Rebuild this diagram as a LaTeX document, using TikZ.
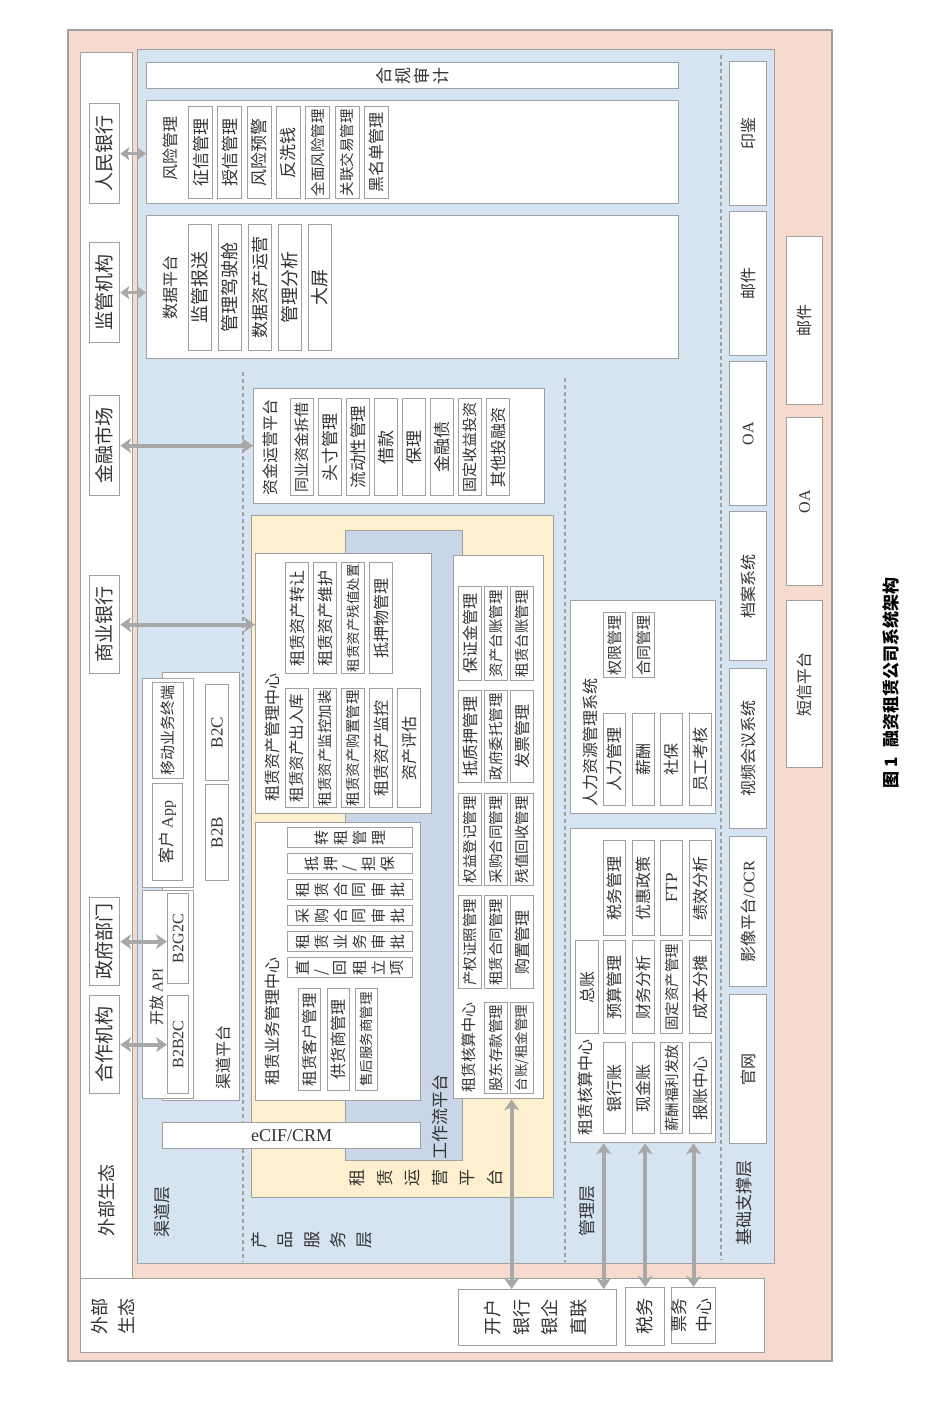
\documentclass[tikz,border=0pt]{standalone}
\usepackage{fontspec}
\usepackage{graphicx}
\setmainfont{Noto Sans CJK SC}
\newfontfamily\serifl{Liberation Serif}
\usetikzlibrary{arrows.meta}

\definecolor{erPeach}{HTML}{F6DACD}
\definecolor{erBlue}{HTML}{D6E4F2}
\definecolor{erYellow}{HTML}{FDF0CE}
\definecolor{erFlow}{HTML}{C8D6E8}
\definecolor{erLine}{HTML}{A0A0A0}
\definecolor{erArrow}{HTML}{A8A8A8}
\definecolor{erText}{HTML}{333333}

\newcommand\fsz[1]{\fontsize{#1}{#1}\selectfont}
\newcommand\rt[1]{\rotatebox{90}{#1}}
\newlength\vgap
\def\vloop#1{\ifx\relax#1\else\makebox[\vgap]{\rotatebox{90}{#1}}\expandafter\vloop\fi}
\newcommand\vs[2][19pt]{\setlength\vgap{#1}\expandafter\vloop#2\relax}

\tikzset{
  box/.style={draw=erLine, fill=white, line width=1.3pt, inner sep=0pt, anchor=north west, text=erText},
  sub/.style={box, line width=1.1pt},
  sz/.style 2 args={minimum width=#1pt, minimum height=#2pt},
  lbl/.style={inner sep=0pt, text=erText},
  layer/.style={draw=erLine, line width=1.3pt},
  sep/.style={draw=erLine, line width=1.2pt, dash pattern=on 4pt off 3pt},
  arr/.style={{Stealth[length=11pt,width=15pt,inset=3pt]}-{Stealth[length=11pt,width=15pt,inset=3pt]}, draw=erArrow, line width=4pt},
  sarr/.style={{Stealth[length=9pt,width=13pt,inset=2pt]}-{Stealth[length=9pt,width=13pt,inset=2pt]}, draw=erArrow, line width=3pt},
}

\begin{document}
\begin{tikzpicture}[x=1pt, y=-1pt, font=\fsz{16}]
\useasboundingbox (0,0) rectangle (944,1421);

% ===== FRAMES =====
\draw[layer, fill=erPeach] (68,30) rectangle (832,1361);
\node[box, sz={52}{1226}] (extl) at (80,52) {};
\node[box, sz={684}{74}] (extb) at (80,1278) {};
\node[box, fill=erBlue, sz={637}{1214}] (core) at (137,49) {};

\node[lbl, font=\fsz{18}] (extlt) at (107,1200) {\rt{外部生态}};
\node[lbl, font=\fsz{18}] (extbt) at (115,1316) {\rt{\begin{tabular}{@{}c@{}}外部\\[6pt]生态\end{tabular}}};

% layer separators
\draw[sep] (243,372) -- (243,1262);
\draw[sep] (565,378) -- (565,1262);
\draw[sep] (721,55) -- (721,1260);

\node[lbl, font=\fsz{17}] (qdc) at (162,1212) {\rt{渠道层}};
\node[lbl, font=\fsz{17}] (cpfwc) at (312,1240) {\vs[26.5pt]{产品服务层}};
\node[lbl, font=\fsz{17}] (glc) at (587,1211) {\rt{管理层}};
\node[lbl, font=\fsz{17}] (jczcc) at (744,1203) {\rt{基础支撑层}};

% ===== EXTERNAL PARTIES (left) =====
\foreach \n/\t/\y/\h in {rmyh/人民银行/103/100, jgjg/监管机构/242/100, jrsc/金融市场/395/100,
                         syyh/商业银行/575/98, zfbm/政府部门/897/88, hzjg/合作机构/995/98}
  \node[box, sz={30}{\h}, font=\fsz{19}] (\n) at (89,\y) {\rt{\t}};

% ===== TOP: compliance, risk, data =====
\node[box, sz={532}{26}, font=\fsz{17}] (hgsj) at (146,62) {\vs[19pt]{合规审计}};

\node[box, sz={532}{103}] (fxgl) at (146,100) {};
\node[lbl, font=\fsz{16}] (fxglt) at (170,148) {\rt{风险管理}};
\foreach \t/\f [count=\i from 0] in {征信管理/17, 授信管理/17, 风险预警/17, 反洗钱/17,
                                     全面风险管理/14.5, 关联交易管理/14.5, 黑名单管理/16}
  \node[sub, sz={24}{92}, font=\fsz{\f}] (fx\i) at ({188+29.3*\i},106) {\rt{\t}};

\node[box, sz={532}{143}] (sjpt) at (146,215) {};
\node[lbl, font=\fsz{16}] (sjptt) at (170,287) {\rt{数据平台}};
\foreach \t/\f [count=\i from 0] in {监管报送/18, 管理驾驶舱/18, 数据资产运营/17, 管理分析/18, 大屏/18}
  \node[sub, sz={23}{126}, font=\fsz{\f}] (sj\i) at ({188+30*\i},224) {\rt{\t}};

% ===== PRODUCT SERVICE LAYER =====
% fund operation
\node[box, sz={291}{115}] (zjyy) at (253,388) {};
\node[lbl, font=\fsz{16}] (zjyyt) at (270,447) {\rt{资金运营平台}};
\foreach \t/\f [count=\i from 0] in {同业资金拆借/15, 头寸管理/17, 流动性管理/16.5, 借款/17,
                                     保理/17, 金融债/17, 固定收益投资/15, 其他投融资/16}
  \node[sub, sz={23}{97}, font=\fsz{\f}] (zj\i) at ({290+28*\i},398) {\rt{\t}};

% leasing operation platform + workflow platform
\node[box, fill=erYellow, sz={302}{682}] (zlyy) at (251,515) {};
\node[lbl, font=\fsz{17}] (zlyyt) at (426,1178) {\vs[27.5pt]{租赁运营平台}};
\node[box, fill=erFlow, sz={117}{630}] (gzl) at (345,530) {};
\node[lbl, font=\fsz{17}] (gzlt) at (440,1117) {\rt{工作流平台}};

% leased asset management centre
\node[box, sz={176}{260}] (zcgl) at (255,553) {};
\node[lbl, font=\fsz{16}] (zcglt) at (272,737) {\rt{租赁资产管理中心}};
\foreach \t/\f [count=\i from 0] in {租赁资产转让/16, 租赁资产维护/16, 租赁资产残值处置/13.5, 抵押物管理/16}
  \node[sub, sz={23}{111}, font=\fsz{\f}] (zu\i) at ({285+28*\i},562) {\rt{\t}};
\foreach \t/\f [count=\i from 0] in {租赁资产出入库/15.5, 租赁资产监控加装/14.5, 租赁资产购置管理/14.5,
                                     租赁资产监控/16, 资产评估/16}
  \node[sub, sz={23}{119}, font=\fsz{\f}] (zl\i) at ({285+28*\i},688) {\rt{\t}};

% leasing business management centre
\node[box, sz={165}{278}] (ywgl) at (255,822) {};
\node[lbl, font=\fsz{16}] (ywglt) at (272,1021) {\rt{租赁业务管理中心}};
\foreach \t [count=\i from 0] in {转租管理,抵押/担保,租赁合同审批,采购合同审批,租赁业务审批,直/回租立项}
  \node[sub, sz={125}{20}, font=\fsz{15}] (yw\i) at (287,{827+26*\i}) {\vs{\t}};
\foreach \t/\f [count=\i from 0] in {租赁客户管理/15.5, 供货商管理/16, 售后服务商管理/13.5}
  \node[sub, sz={22}{102}, font=\fsz{\f}] (yl\i) at ({298+28.5*\i},988) {\rt{\t}};

% leasing accounting centre
\node[box, sz={90}{543}] (hs1) at (453,555) {};
\foreach \t/\f [count=\i from 0] in {保证金管理/16, 资产台账管理/14.5, 租赁台账管理/14.5}
  \node[sub, sz={23}{94}, font=\fsz{\f}] (ha\i) at ({458+26*\i},586) {\rt{\t}};
\foreach \t/\f [count=\i from 0] in {抵质押管理/16, 政府委托管理/14.5, 发票管理/16}
  \node[sub, sz={23}{92}, font=\fsz{\f}] (hb\i) at ({458+26*\i},690) {\rt{\t}};
\foreach \t/\f [count=\i from 0] in {权益登记管理/14.5, 采购合同管理/14.5, 残值回收管理/14.5}
  \node[sub, sz={23}{92}, font=\fsz{\f}] (hc\i) at ({458+26*\i},793) {\rt{\t}};
\foreach \t/\f [count=\i from 0] in {产权证照管理/14.5, 租赁合同管理/14.5, 购置管理/16}
  \node[sub, sz={23}{93}, font=\fsz{\f}] (hd\i) at ({458+26*\i},895) {\rt{\t}};
\node[lbl, font=\fsz{15}] (hs1t) at (469,1047) {\rt{租赁核算中心}};
\node[sub, sz={23}{91}, font=\fsz{14.5}] (he1) at (484,1002) {\rt{股东存款管理}};
\node[sub, sz={23}{91}, font=\fsz{13.5}] (he2) at (510,1002) {\rt{台账/租金管理}};

% ===== CHANNEL LAYER =====
\node[box, sz={77}{428}] (qdpt) at (162,672) {};
\node[lbl, font=\fsz{16}] (qdptt) at (223,1057) {\rt{渠道平台}};
\node[box, sz={51}{209}] (qdzd) at (142,678) {};
\node[sub, sz={31}{96}, font=\fsz{15}] (ydzd) at (152,682) {\rt{移动业务终端}};
\node[sub, sz={30}{97}, font=\fsz{16}] (khapp) at (152,783) {\rt{客户 {\serifl App}}};
\node[sub, sz={23}{96}, font=\fsz{17}\serifl] (b2c) at (205,684) {\rt{B2C}};
\node[sub, sz={23}{96}, font=\fsz{17}\serifl] (b2b) at (205,784) {\rt{B2B}};
\node[box, sz={51}{208}] (kfapi) at (142,890) {};
\node[lbl, font=\fsz{15}] (kfapit) at (157,997) {\rt{开放 {\serifl API}}};
\node[sub, sz={21}{90}, font=\fsz{16}\serifl] (b2g2c) at (167,893) {\rt{B2G2C}};
\node[sub, sz={21}{98}, font=\fsz{16}\serifl] (b2b2c) at (167,995) {\rt{B2B2C}};

\node[box, sz={258}{26}, font=\fsz{18}\serifl] (ecif) at (162,1122) {eCIF/CRM};

% ===== MANAGEMENT LAYER =====
\node[box, sz={145}{213}] (rlzy) at (570,600) {};
\node[lbl, font=\fsz{16}] (rlzyt) at (590,742) {\rt{人力资源管理系统}};
\node[sub, sz={22}{65}, font=\fsz{15}] (qxgl) at (603,612) {\rt{权限管理}};
\node[sub, sz={22}{65}, font=\fsz{15}] (htgl) at (632,612) {\rt{合同管理}};
\foreach \t [count=\i from 0] in {人力管理, 薪酬, 社保, 员工考核}
  \node[sub, sz={22}{92}, font=\fsz{16}] (rl\i) at ({603+28.5*\i},713) {\rt{\t}};

\node[box, sz={145}{314}] (hs2) at (570,828) {};
\node[lbl, font=\fsz{16}] (hs2t) at (585,1087) {\rt{租赁核算中心}};
\node[sub, sz={23}{93}, font=\fsz{16}] (zz) at (575,940) {\rt{总账}};
\foreach \t/\f [count=\i from 0] in {税务管理/16, 优惠政策/16, {\serifl FTP}/17, 绩效分析/16}
  \node[sub, sz={22}{95}, font=\fsz{\f}] (ma\i) at ({603+28.5*\i},840) {\rt{\t}};
\foreach \t/\f [count=\i from 0] in {预算管理/16, 财务分析/16, 固定资产管理/14.5, 成本分摊/16}
  \node[sub, sz={22}{93}, font=\fsz{\f}] (mb\i) at ({603+28.5*\i},940) {\rt{\t}};
\foreach \t/\f [count=\i from 0] in {银行账/16, 现金账/16, 薪酬福利发放/14.5, 报账中心/16}
  \node[sub, sz={22}{91}, font=\fsz{\f}] (mc\i) at ({603+28.5*\i},1042) {\rt{\t}};

% ===== INFRASTRUCTURE LAYER =====
\foreach \n/\t/\y/\h in {yjb/印鉴/61/144, yjn/邮件/211/144, oan/{\serifl OA}/361/144, dax/档案系统/511/149,
                         sphy/视频会议系统/668/160, yxpt/{影像平台{\serifl /OCR}}/836/150, gw/官网/994/149}
  \node[box, sz={37}{\h}, font=\fsz{16}] (\n) at (729,\y) {\rt{\t}};

\node[box, sz={36}{168}, font=\fsz{16}] (yjw) at (786,236) {\rt{邮件}};
\node[box, sz={36}{168}, font=\fsz{16}\serifl] (oaw) at (786,417) {\rt{OA}};
\node[box, sz={36}{167}, font=\fsz{16}] (dxpt) at (786,600) {\rt{短信平台}};

% ===== BOTTOM EXTERNAL =====
\node[box, sz={158}{56}, font=\fsz{18}] (khyh) at (458,1289)
  {\rt{\begin{tabular}{@{}c@{}}开户\\[8pt]银行\\[8pt]银企\\[8pt]直联\end{tabular}}};
\node[box, sz={39}{58}, font=\fsz{18}] (sw) at (625,1287) {\rt{税务}};
\node[box, sz={40}{56}, font=\fsz{17}] (pw) at (671,1287)
  {\rt{\begin{tabular}{@{}c@{}}票务\\[5pt]中心\end{tabular}}};

% ===== CONNECTORS =====
\draw[sarr] (rmyh.east) -- (rmyh.east -| fxgl.west);
\draw[sarr] (jgjg.east) -- (jgjg.east -| sjpt.west);
\draw[arr] (jrsc.east) -- (jrsc.east -| zjyy.west);
\draw[arr] (syyh.east) -- (syyh.east -| zcgl.west);
\draw[arr] (zfbm.east) -- (zfbm.east -| b2g2c.west);
\draw[arr] (hzjg.east) -- (hzjg.east -| b2b2c.west);

\draw[arr] ([xshift=13pt]hs1.south) -- ([xshift=13pt]hs1.south |- khyh.north);
\draw[arr] ([xshift=66pt]khyh.north) -- ([xshift=66pt]khyh.north |- hs2.south);
\draw[arr] (sw.north) -- (sw.north |- hs2.south);
\draw[arr] (pw.north) -- (pw.north |- hs2.south);

% caption
\node[lbl, font=\fsz{17}\bfseries, text=black] (cap) at (891,683) {\rt{图 1\hspace{0.6em}融资租赁公司系统架构}};

\end{tikzpicture}
\end{document}
